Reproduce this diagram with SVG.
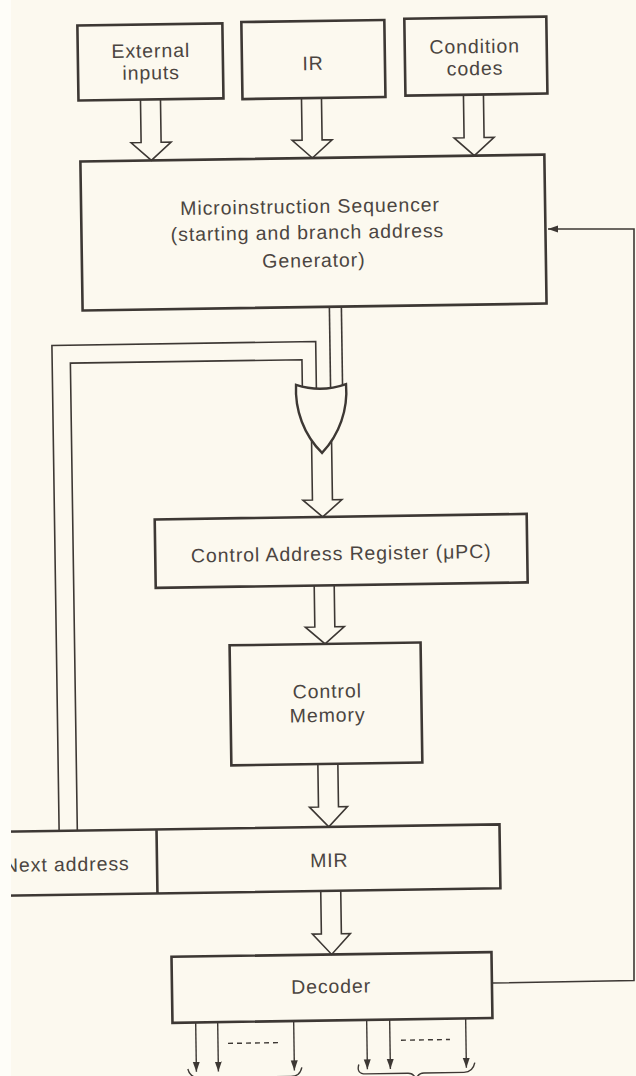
<svg xmlns="http://www.w3.org/2000/svg" width="636" height="1076" viewBox="0 0 636 1076">
  <defs>
    <style>
      .box { fill: none; stroke: #3d3834; stroke-width: 2.6; }
      .hollow { fill: #fcf9ef; stroke: #3d3834; stroke-width: 1.6; stroke-linejoin: miter; }
      .wire { fill: none; stroke: #3d3834; stroke-width: 1.6; }
      .thin { fill: none; stroke: #3d3834; stroke-width: 1.4; }
      .dots { fill: none; stroke: #3d3834; stroke-width: 1.4; stroke-dasharray: 5 4; }
      .lbl { font-family: "Liberation Sans", Arial, sans-serif; font-size: 19.5px; fill: #4b4541; letter-spacing: 0.9px; text-anchor: middle; }
    </style>
    <marker id="tip" markerUnits="userSpaceOnUse" markerWidth="11" markerHeight="8" refX="10" refY="3.5" orient="auto">
      <path d="M0,0 L10,3.5 L0,7 Z" fill="#3d3834"/>
    </marker>
  </defs>

  <!-- paper -->
  <rect x="0" y="0" width="636" height="1076" fill="#fcf9ef"/>

  <!-- the printed figure sits slightly tilted on the page -->
  <g transform="rotate(-0.85 318 538)">

    <g id="connectors">
      <!-- wide bus arrows -->
      <path class="hollow" d="M147 97 V140 H137 L157 158 L177 140 H167 V97"/>
      <path class="hollow" d="M308 98 V140 H298 L318 158 L338 140 H328 V98"/>
      <path class="hollow" d="M470 97 V140 H460 L480 158 L500 140 H490 V97"/>
      <path class="hollow" d="M313 440 V500 H303.5 L323 517 L342.5 500 H333 V440"/>
      <path class="hollow" d="M313.5 585.5 V627 H304 L323.5 644 L343 627 H333.5 V585.5"/>
      <path class="hollow" d="M314.5 764 V807 H305.5 L324.5 827 L343.5 807 H334.5 V764"/>
      <path class="hollow" d="M315.5 891 V934 H306.5 L325.5 954.6 L344.5 934 H335.5 V891"/>

      <!-- sequencer output pair into the OR gate -->
      <path class="wire" d="M332.8 307 V392"/>
      <path class="wire" d="M344.8 307 V392"/>

      <!-- next-address loops from MIR back to the OR gate -->
      <path class="wire" d="M54.8 827 V341.5 H318.6 V392"/>
      <path class="wire" d="M73 827 V359.5 H304.6 V392"/>

      <!-- decoder control outputs -->
      <path class="thin" d="M188.5 1020.5 V1070" marker-end="url(#tip)"/>
      <path class="thin" d="M210.5 1020.5 V1070" marker-end="url(#tip)"/>
      <path class="thin" d="M286.5 1020.5 V1070" marker-end="url(#tip)"/>
      <path class="thin" d="M359.5 1020.5 V1070" marker-end="url(#tip)"/>
      <path class="thin" d="M382.5 1020.5 V1070" marker-end="url(#tip)"/>
      <path class="thin" d="M458.5 1020.5 V1070" marker-end="url(#tip)"/>
      <path class="dots" d="M220.5 1042 H270.5"/>
      <path class="dots" d="M393.5 1041.4 H442.5"/>

      <!-- grouping braces under the output lines -->
      <path class="thin" d="M180 1067 Q182 1076 192 1076 H233 Q240 1076 242 1083 M242 1083 Q244 1076 251 1076 H283 Q292 1076 294 1067"/>
      <path class="thin" d="M351 1065 Q348 1074.5 358 1074.5 H400 Q406 1074.5 408 1081 M408 1081 Q410 1074.5 416 1074.5 H456 Q465 1074.5 467 1065"/>
    </g>

    <g id="node-external">
      <rect class="box" x="85" y="22" width="145" height="75"/>
      <text class="lbl" x="158" y="55">External</text>
      <text class="lbl" x="158" y="77">inputs</text>
    </g>

    <g id="node-ir">
      <rect class="box" x="249" y="21" width="143" height="77"/>
      <text class="lbl" x="320" y="70">IR</text>
    </g>

    <g id="node-condition">
      <rect class="box" x="412" y="20" width="142" height="77"/>
      <text class="lbl" x="482" y="55.5">Condition</text>
      <text class="lbl" x="482" y="77.5">codes</text>
    </g>

    <g id="node-sequencer">
      <rect class="box" x="86" y="158" width="464" height="149"/>
      <text class="lbl" x="315" y="213">Microinstruction Sequencer</text>
      <text class="lbl" x="312" y="239">(starting and branch address</text>
      <text class="lbl" x="318" y="267">Generator)</text>
    </g>

    <g id="node-or-gate">
      <path d="M298.3 384.5 Q323.3 393 348.3 384.5 C350 410 341 435 323.3 453 C305.6 435 296.6 410 298.3 384.5 Z" fill="#fcf9ef" stroke="#3d3834" stroke-width="2.4" stroke-linejoin="miter"/>
    </g>

    <g id="node-car">
      <rect class="box" x="155" y="517" width="372" height="68.5"/>
      <text class="lbl" x="341" y="560.5">Control Address Register (μPC)</text>
    </g>

    <g id="node-control-memory">
      <rect class="box" x="228" y="644" width="191" height="120"/>
      <text class="lbl" x="325" y="698">Control</text>
      <text class="lbl" x="325" y="722">Memory</text>
    </g>

    <g id="node-mir">
      <path class="box" d="M-20 827 H495.2 V891 H-20 M152.2 827 V891"/>
      <text class="lbl" x="62" y="867.3">Next address</text>
      <text class="lbl" x="324.5" y="867.2">MIR</text>
    </g>

    <g id="node-decoder">
      <rect class="box" x="165.3" y="954.6" width="320" height="66"/>
      <text class="lbl" x="324.5" y="993.2">Decoder</text>
    </g>
  </g>

  <!-- decoder feedback into the sequencer, running along the page edge -->
  <g id="feedback">
    <path class="wire" d="M492 983 L634 980.5 L634 229 L548 229" marker-end="url(#tip)"/>
  </g>

  <!-- lighter margin strip where the page edge cuts the figure -->
  <rect x="0" y="0" width="11" height="1076" fill="#fefdf8"/>
</svg>
